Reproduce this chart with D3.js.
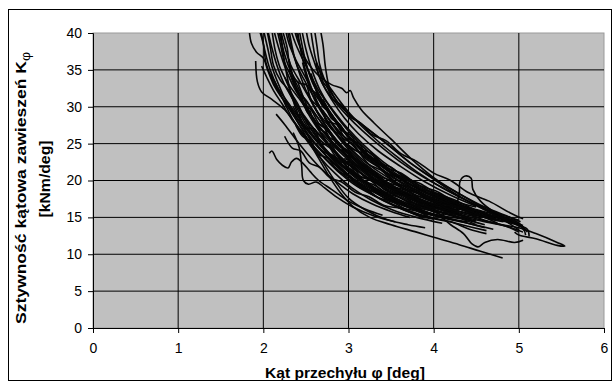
<!DOCTYPE html>
<html>
<head>
<meta charset="utf-8">
<script src="https://cdn.jsdelivr.net/npm/d3@7"></script>
<style>
  body { margin: 0; background: #fff; }
  svg text { font-family: "Liberation Sans", Arial, sans-serif; fill: #000; }
</style>
</head>
<body>
<div id="chart"></div>
<script>
// axis ticks
const xTicks = [0, 1, 2, 3, 4, 5, 6];
const yTicks = [0, 5, 10, 15, 20, 25, 30, 35, 40];

// measured runs: [roll angle deg, roll stiffness kNm/deg]
const run01 = [[1.83,41],[1.86,38.6],[1.92,37.4],[2.0,36.6],[2.05,35.0],[2.12,33.0],[2.2,31.5],[2.32,29.8],[2.45,27.5],[2.6,25.2],[2.75,23.2],[2.95,21.0],[3.2,19.0]];
const run02 = [[1.91,36.2],[1.93,33.4],[1.98,32.0],[2.1,31.0],[2.25,29.6],[2.4,27.4],[2.6,24.5],[2.85,21.5],[3.1,19.2],[3.4,17.4],[3.7,15.8],[4.0,14.8]];
const run03 = [[1.97,40.5],[2.02,37.5],[2.08,35.0],[2.17,32.6],[2.3,30.4],[2.45,28.0],[2.62,25.6],[2.8,23.3],[3.0,21.4],[3.25,19.3],[3.55,17.4],[3.85,15.9],[4.1,15.1]];
const run04 = [[2.03,41],[2.08,38.2],[2.12,35.6],[2.2,33.6],[2.28,32.5],[2.4,30.5],[2.5,28.2],[2.7,25.8],[2.95,22.7],[3.2,20.5],[3.5,18.6],[3.8,16.8],[4.15,15.4],[4.4,14.8]];
const run05 = [[2.1,40.5],[2.14,37.6],[2.2,35.2],[2.3,33.0],[2.42,31.1],[2.55,29.0],[2.7,26.6],[2.88,24.3],[3.05,22.5],[3.3,20.2],[3.6,18.2],[3.95,16.3],[4.3,15.0],[4.6,14.0]];
const run06 = [[2.15,41],[2.2,38.5],[2.25,36.0],[2.35,33.6],[2.38,32.4],[2.5,30.9],[2.62,28.8],[2.78,26.4],[2.95,24.2],[3.15,22.3],[3.4,20.0],[3.7,18.0],[4.0,16.5],[4.35,15.2]];
const run07 = [[2.2,40.5],[2.26,37.8],[2.32,35.7],[2.45,33.0],[2.55,31.0],[2.65,29.1],[2.8,27.0],[3.0,24.6],[3.2,22.5],[3.45,20.5],[3.75,18.6],[4.05,17.1],[4.4,15.8],[4.75,14.6]];
const run08 = [[2.25,41],[2.3,38.6],[2.38,36.4],[2.48,34.3],[2.6,31.8],[2.74,29.6],[2.9,27.2],[3.08,25.0],[3.3,22.8],[3.55,20.6],[3.85,18.7],[4.2,17.0],[4.55,15.6],[4.9,14.4],[5.05,13.9]];
const run09 = [[2.35,41],[2.42,38.4],[2.52,36.0],[2.65,34.2],[2.8,33.0],[2.92,32.5],[2.98,31.9],[3.02,32.2],[3.06,31.2],[3.15,29.6],[3.3,27.8],[3.5,25.6],[3.75,22.8],[4.0,20.4],[4.3,18.2],[4.6,16.2],[4.9,14.4],[5.05,13.6]];
const run10 = [[2.66,41],[2.7,38.5],[2.73,35.3],[2.78,32.5],[2.88,30.5],[3.0,29.0],[3.2,27.2],[3.45,25.0],[3.7,22.6],[3.95,20.6],[4.2,18.6],[4.5,16.6],[4.8,14.8],[5.0,13.3]];
const run11 = [[2.55,41],[2.58,38.6],[2.62,36.2],[2.7,34.0],[2.82,32.0],[2.95,30.0],[3.1,28.0],[3.3,25.8],[3.55,23.4],[3.8,21.2],[4.1,19.0],[4.4,17.2],[4.7,15.6],[5.0,14.2],[5.1,13.0]];
const run12 = [[2.3,30],[2.45,27.0],[2.6,24.0],[2.75,21.0],[2.9,18.4],[3.05,16.5],[3.25,15.0],[3.5,14.0],[3.8,13.0],[4.0,12.3],[4.3,11.3],[4.55,10.4],[4.81,9.5]];
const run13 = [[2.2,40.5],[2.25,36.0],[2.32,32.0],[2.42,28.6],[2.55,25.5],[2.7,22.5],[2.85,19.8],[3.0,17.6],[3.2,16.0],[3.45,14.7],[3.7,14.0],[3.9,13.6]];
const run14 = [[2.07,23.7],[2.1,24.0],[2.16,22.8],[2.22,22.1],[2.29,21.7],[2.33,22.5],[2.39,23.0],[2.46,22.4],[2.55,21.2],[2.65,20.0],[2.8,18.8],[3.0,17.2],[3.2,16.1],[3.4,15.3]];
const run15 = [[2.35,26.5],[2.42,24.5],[2.45,22.0],[2.47,20.0],[2.53,19.5],[2.62,19.8],[2.72,19.0],[2.88,17.6],[3.05,16.4],[3.3,15.2],[3.55,14.4]];
const run16 = [[2.4,40.5],[2.45,37.0],[2.52,34.0],[2.62,31.0],[2.75,28.0],[2.92,25.3],[3.1,23.0],[3.35,20.6],[3.6,18.6],[3.9,17.0],[4.2,15.8],[4.5,14.8],[4.8,14.0],[5.0,13.6],[5.2,12.8],[5.45,11.6],[5.54,11.1],[5.45,11.2],[5.2,12.1],[5.0,12.6],[4.95,13.0]];
const run17 = [[2.3,40.5],[2.36,37.0],[2.44,34.0],[2.55,31.0],[2.7,28.0],[2.88,25.2],[3.08,22.8],[3.3,20.8],[3.55,19.0],[3.8,17.6],[4.05,16.6],[4.25,16.6],[4.3,18.2],[4.31,19.9],[4.37,20.6],[4.44,20.3],[4.46,18.8],[4.55,17.2],[4.7,15.8],[4.9,14.6],[5.05,13.6],[5.08,12.6]];
const run18 = [[3.2,20.0],[3.5,17.4],[3.8,16.0],[4.05,15.3],[4.2,14.0],[4.35,12.8],[4.45,11.4],[4.52,11.0],[4.6,11.6],[4.75,12.0],[4.95,11.6],[5.05,11.9]];
const run19 = [[2.0,40.5],[2.05,38.0],[2.1,35.5],[2.18,33.0],[2.28,30.5],[2.4,28.4],[2.58,26.0],[2.78,23.6],[3.0,21.5],[3.22,19.6],[3.45,18.2],[3.7,16.8],[3.95,15.6]];
const run20 = [[2.12,40.5],[2.18,38.0],[2.26,35.2],[2.36,32.6],[2.5,30.0],[2.64,27.6],[2.8,25.4],[3.0,23.2],[3.22,21.0],[3.5,19.0],[3.8,17.2],[4.1,16.0],[4.4,15.0]];
const run21 = [[2.28,40.5],[2.33,38.0],[2.4,35.5],[2.5,33.2],[2.62,30.8],[2.76,28.5],[2.92,26.3],[3.12,24.0],[3.36,21.8],[3.62,19.8],[3.92,18.0],[4.25,16.4],[4.6,15.1]];
const run22 = [[2.45,40.5],[2.5,37.8],[2.57,35.0],[2.66,32.4],[2.78,30.0],[2.92,27.8],[3.1,25.4],[3.3,23.2],[3.55,21.0],[3.82,19.2],[4.12,17.5],[4.45,16.0],[4.8,14.8],[5.0,14.0]];
const run23 = [[2.5,40.5],[2.54,38.2],[2.6,36.0],[2.68,33.5],[2.8,31.0],[2.95,28.5],[3.12,26.3],[3.35,24.0],[3.6,22.0],[3.9,19.8],[4.2,18.0],[4.5,16.5]];
const run24 = [[1.95,40.5],[2.0,38.5],[2.03,36.0],[2.1,33.8],[2.2,31.6],[2.32,29.4],[2.46,27.0],[2.64,24.5],[2.85,22.2],[3.05,20.3],[3.3,18.6],[3.6,16.9],[3.9,15.6],[4.2,14.8]];
const run25 = [[2.05,40.5],[2.1,38.0],[2.16,35.6],[2.24,33.2],[2.35,31.0],[2.48,28.8],[2.65,26.2],[2.85,23.8],[3.06,21.8],[3.3,19.8],[3.58,17.8],[3.88,16.4],[4.2,15.3],[4.5,14.5]];
const run26 = [[2.18,40.5],[2.22,38.3],[2.28,36.0],[2.36,33.8],[2.46,31.5],[2.6,29.2],[2.76,26.6],[2.96,24.1],[3.18,22.0],[3.42,20.0],[3.7,18.2],[4.0,16.8],[4.3,15.8],[4.6,15.0]];
const run27 = [[2.32,40.5],[2.38,38.5],[2.46,36.5],[2.56,34.2],[2.66,32.0],[2.8,29.8],[2.98,27.2],[3.18,24.8],[3.4,22.6],[3.68,20.4],[3.98,18.4],[4.3,16.8],[4.65,15.4],[4.95,14.4]];
const run28 = [[2.38,40.5],[2.44,38.0],[2.5,35.8],[2.58,33.2],[2.7,30.6],[2.85,28.2],[3.02,25.8],[3.22,23.6],[3.46,21.4],[3.75,19.3],[4.05,17.6],[4.38,16.2],[4.7,15.0]];
const run29 = [[2.6,40.5],[2.63,38.2],[2.66,35.8],[2.72,33.6],[2.8,31.8],[2.9,30.2],[3.05,28.6],[3.25,26.8],[3.5,24.5],[3.75,22.2],[4.0,20.2],[4.3,18.2],[4.6,16.4],[4.9,15.0],[5.02,14.4]];
const run30 = [[2.22,40.5],[2.28,38.0],[2.32,35.0],[2.42,33.2],[2.5,33.0],[2.56,31.0],[2.7,29.4],[2.85,27.0],[3.0,25.4],[3.2,23.0],[3.4,21.4],[3.62,19.2],[3.9,17.8],[4.15,16.4],[4.3,16.0]];
const run31 = [[2.08,34.5],[2.15,33.0],[2.25,30.5],[2.36,28.0],[2.5,25.6],[2.66,23.2],[2.84,21.0],[3.04,19.0],[3.26,17.4],[3.52,16.0],[3.8,15.0],[4.1,14.2]];
const run32 = [[2.4,33.5],[2.48,31.0],[2.58,28.4],[2.7,26.0],[2.86,23.5],[3.04,21.2],[3.25,19.2],[3.5,17.4],[3.78,16.0],[4.08,15.0],[4.4,14.2],[4.7,13.4]];
const run33 = [[2.3,36.5],[2.35,34.0],[2.42,31.6],[2.52,29.2],[2.65,26.8],[2.8,24.4],[2.98,22.0],[3.18,20.0],[3.42,18.2],[3.7,16.6],[4.0,15.4],[4.3,14.5],[4.6,13.6]];
const run34 = [[2.6,30.0],[2.7,28.0],[2.82,26.0],[2.98,24.0],[3.16,22.0],[3.38,20.0],[3.64,18.2],[3.92,16.8],[4.2,15.6],[4.52,14.6],[4.85,13.8],[5.05,13.0]];
const run35 = [[2.5,28.0],[2.62,26.0],[2.74,24.0],[2.9,21.8],[3.08,19.8],[3.3,18.0],[3.55,16.6],[3.84,15.4],[4.12,14.6],[4.4,13.8],[4.62,13.2]];
const run36 = [[2.7,31.0],[2.8,29.0],[2.92,27.2],[3.06,25.2],[3.24,23.2],[3.45,21.4],[3.7,19.6],[3.96,18.0],[4.25,16.6],[4.55,15.4],[4.85,14.4],[5.1,13.4],[5.12,12.4]];
const run37 = [[2.25,34.0],[2.34,31.6],[2.45,29.0],[2.58,26.6],[2.72,24.4],[2.9,22.2],[3.1,20.2],[3.35,18.4],[3.6,17.0],[3.88,15.8],[4.1,15.3],[4.2,16.2],[4.3,15.4],[4.45,14.6]];
const run38 = [[1.98,35.5],[2.04,34.0],[2.12,32.2],[2.22,30.4],[2.34,28.2],[2.5,25.8],[2.7,23.3],[2.92,21.0],[3.15,19.0],[3.4,17.3],[3.65,16.0],[3.9,15.0]];
const run39 = [[2.62,36.0],[2.66,34.0],[2.74,32.2],[2.86,30.4],[3.0,28.6],[3.16,26.8],[3.36,24.8],[3.6,22.6],[3.86,20.6],[4.14,18.8],[4.44,17.0],[4.74,15.6],[5.0,14.6]];
const run40 = [[2.15,29.0],[2.25,27.6],[2.38,25.6],[2.52,23.6],[2.68,21.6],[2.86,19.8],[3.05,18.2],[3.28,16.8],[3.5,15.8],[3.72,15.0]];
const run41 = [[2.42,40.5],[2.47,37.5],[2.52,35.2],[2.6,32.8],[2.72,30.4],[2.86,28.0],[3.04,25.6],[3.25,23.3],[3.5,21.2],[3.78,19.2],[4.08,17.6],[4.4,16.3],[4.7,15.2],[4.98,14.4],[5.06,13.2]];
const run42 = [[2.35,30.0],[2.45,28.0],[2.56,26.2],[2.68,24.6],[2.82,23.0],[2.98,21.4],[3.16,19.9],[3.36,18.6],[3.58,17.4],[3.82,16.4],[4.06,15.6]];
const run43 = [[2.52,32.0],[2.6,30.0],[2.7,28.0],[2.82,26.0],[2.96,24.0],[3.12,22.2],[3.3,20.6],[3.52,19.0],[3.76,17.6],[4.02,16.5],[4.3,15.6],[4.55,14.9]];
const run44 = [[2.46,36.0],[2.52,33.5],[2.6,31.0],[2.72,28.6],[2.86,26.4],[3.02,24.2],[3.2,22.2],[3.42,20.4],[3.66,18.8],[3.92,17.4],[4.2,16.3]];
const run45 = [[2.28,32.5],[2.38,30.2],[2.5,27.6],[2.64,25.2],[2.8,23.0],[2.98,21.0],[3.18,19.2],[3.4,17.8],[3.64,16.6],[3.9,15.6],[4.18,14.8]];
const run46 = [[2.56,34.5],[2.62,32.4],[2.7,30.4],[2.82,28.4],[2.96,26.4],[3.12,24.4],[3.3,22.4],[3.52,20.4],[3.78,18.6],[4.06,17.2],[4.36,16.0],[4.66,15.0]];
const run47 = [[2.68,26.5],[2.8,25.0],[2.94,23.4],[3.1,21.8],[3.28,20.2],[3.5,18.8],[3.74,17.6],[4.0,16.6],[4.28,15.8]];
const run48 = [[2.45,31.5],[2.52,29.2],[2.58,28.6],[2.66,27.0],[2.74,26.4],[2.84,24.6],[2.95,23.9],[3.05,22.2],[3.18,21.6],[3.3,20.0],[3.45,19.4],[3.6,18.2],[3.78,17.6],[3.95,16.5],[4.15,16.0]];
const run49 = [[2.55,29.5],[2.6,28.0],[2.7,27.4],[2.78,25.8],[2.88,25.2],[2.98,23.4],[3.1,22.8],[3.22,21.0],[3.36,20.5],[3.5,19.0],[3.68,18.4],[3.86,17.2],[4.05,16.7],[4.3,15.6]];
const run50 = [[2.6,33.0],[2.66,31.0],[2.72,30.2],[2.8,28.4],[2.9,27.6],[3.0,25.8],[3.12,25.0],[3.24,23.2],[3.38,22.5],[3.52,20.8],[3.7,20.0],[3.9,18.4],[4.1,17.8],[4.35,16.4],[4.6,15.6]];
const run51 = [[2.38,27.5],[2.46,26.0],[2.55,25.4],[2.64,23.6],[2.76,23.0],[2.88,21.2],[3.0,20.6],[3.14,19.0],[3.3,18.5],[3.48,17.2],[3.66,16.7],[3.86,15.6],[4.05,15.2]];
const run52 = [[2.72,28.5],[2.8,27.0],[2.9,26.2],[3.0,24.6],[3.12,23.8],[3.24,22.2],[3.38,21.4],[3.54,19.8],[3.72,19.0],[3.9,17.6],[4.1,17.0],[4.3,15.8],[4.55,15.2],[4.75,14.2]];
const run53 = [[2.5,34.5],[2.55,32.5],[2.62,31.8],[2.7,30.0],[2.8,29.0],[2.9,27.0],[3.02,26.2],[3.14,24.4],[3.28,23.6],[3.44,21.8],[3.62,21.0],[3.82,19.4],[4.02,18.6],[4.25,17.2],[4.5,16.4]];
const run54 = [[2.62,25.0],[2.72,23.8],[2.82,23.4],[2.92,22.0],[3.04,21.4],[3.16,20.0],[3.3,19.4],[3.46,18.2],[3.62,17.6],[3.8,16.4],[4.0,15.8],[4.2,14.8],[4.4,14.4]];
const run55 = [[2.85,27.0],[2.95,25.6],[3.05,25.0],[3.16,23.4],[3.28,22.8],[3.42,21.2],[3.58,20.4],[3.75,19.0],[3.94,18.2],[4.14,17.0],[4.36,16.2],[4.6,15.0],[4.82,14.4]];
const run56 = [[2.3,35.0],[2.36,33.0],[2.4,32.4],[2.48,30.4],[2.56,29.6],[2.66,27.6],[2.76,26.8],[2.88,24.8],[3.0,24.0],[3.14,22.0],[3.3,21.2],[3.48,19.4],[3.68,18.6],[3.9,17.2],[4.12,16.6]];
const run57 = [[2.78,24.5],[2.9,22.6],[3.0,22.2],[3.12,20.6],[3.26,20.0],[3.4,18.6],[3.56,18.0],[3.74,16.8],[3.92,16.2],[4.12,15.2],[4.32,14.8],[4.5,14.0]];
const run58 = [[2.95,23.0],[3.05,22.4],[3.16,21.6],[3.3,21.0],[3.44,19.8],[3.6,19.2],[3.78,18.0],[3.96,17.4],[4.16,16.2],[4.38,15.6],[4.6,14.6],[4.85,13.8],[5.0,13.0]];
const run59 = [[3.1,19.5],[3.22,18.8],[3.36,17.6],[3.5,17.2],[3.66,16.2],[3.82,15.8],[4.0,14.8],[4.2,14.4],[4.42,13.4],[4.62,12.8]];
const run60 = [[2.65,35.5],[2.7,33.4],[2.75,32.6],[2.82,31.0],[2.92,30.2],[3.02,28.6],[3.14,27.8],[3.28,26.2],[3.44,25.4],[3.62,23.6],[3.8,22.6],[4.0,21.0],[4.2,20.0],[4.4,18.4],[4.65,17.2],[4.9,15.6],[5.05,14.8]];
const run61 = [[2.25,26.0],[2.34,24.4],[2.44,24.0],[2.54,22.4],[2.66,21.8],[2.78,20.4],[2.92,19.8],[3.08,18.4],[3.24,17.8],[3.42,16.6],[3.62,16.2],[3.82,15.2],[4.0,14.8]];
const run62 = [[2.98,25.0],[3.1,24.0],[3.22,23.6],[3.35,22.4],[3.5,21.8],[3.66,20.4],[3.84,19.6],[4.04,18.2],[4.24,17.4],[4.46,16.2],[4.7,15.4],[4.92,14.2]];
const run63 = [[2.42,29.0],[2.5,27.2],[2.6,27.0],[2.68,25.0],[2.8,24.8],[2.9,22.8],[3.02,22.4],[3.14,20.6],[3.28,20.2],[3.44,18.6],[3.6,18.2],[3.8,16.8],[4.0,16.4]];
const run64 = [[2.7,29.5],[2.76,28.0],[2.86,27.6],[2.96,25.8],[3.08,25.2],[3.2,23.4],[3.34,22.8],[3.5,21.0],[3.66,20.4],[3.86,18.8],[4.06,18.2],[4.28,16.8]];
const run65 = [[2.58,27.0],[2.66,25.6],[2.76,24.6],[2.86,23.8],[2.96,22.4],[3.08,21.8],[3.2,20.4],[3.34,19.8],[3.5,18.4],[3.68,17.8],[3.88,16.6],[4.08,16.0],[4.3,15.0]];
const run66 = [[2.8,26.0],[2.9,24.6],[3.0,24.0],[3.1,22.6],[3.22,22.0],[3.36,20.6],[3.5,20.0],[3.66,18.8],[3.84,18.2],[4.04,17.0],[4.24,16.4],[4.46,15.4]];

const runs = [run01, run02, run03, run04, run05, run06, run07, run08, run09, run10,
  run11, run12, run13, run14, run15, run16, run17, run18, run19, run20,
  run21, run22, run23, run24, run25, run26, run27, run28, run29, run30,
  run31, run32, run33, run34, run35, run36, run37, run38, run39, run40,
  run41, run42, run43, run44, run45, run46, run47, run48, run49, run50,
  run51, run52, run53, run54, run55, run56, run57, run58, run59, run60,
  run61, run62, run63, run64, run65, run66];

const W = 614, H = 384;
const margin = { top: 33, left: 93 };
const width = 604 - margin.left;
const height = 328 - margin.top;

const svg = d3.select('#chart').append('svg')
  .attr('width', W)
  .attr('height', H);

// outer frame
svg.append('rect')
  .attr('x', 8.5).attr('y', 9.5)
  .attr('width', 603).attr('height', 371)
  .attr('fill', 'none')
  .attr('stroke', '#000');

const g = svg.append('g')
  .attr('transform', `translate(${margin.left},${margin.top})`);

const x = d3.scaleLinear().domain([0, 6]).range([0, width]);
const y = d3.scaleLinear().domain([0, 40]).range([height, 0]);

// plot area
g.append('rect')
  .attr('width', width).attr('height', height)
  .attr('fill', '#c0c0c0')
  .attr('stroke', '#9a9a9a');

// gridlines
g.selectAll('.hgrid')
  .data(yTicks.filter(d => d > 0 && d < 40))
  .enter().append('line')
  .attr('class', 'hgrid')
  .attr('x1', 0).attr('x2', width)
  .attr('y1', d => y(d)).attr('y2', d => y(d))
  .attr('stroke', '#000');

g.selectAll('.vgrid')
  .data(xTicks.filter(d => d > 0 && d < 6))
  .enter().append('line')
  .attr('class', 'vgrid')
  .attr('y1', 0).attr('y2', height)
  .attr('x1', d => x(d)).attr('x2', d => x(d))
  .attr('stroke', '#000');

// curves
g.append('clipPath').attr('id', 'plotclip')
  .append('rect').attr('width', width).attr('height', height);

const line = d3.line()
  .x(d => x(d[0]))
  .y(d => y(d[1]))
  .curve(d3.curveCatmullRom.alpha(0.5));

g.append('g')
  .attr('clip-path', 'url(#plotclip)')
  .selectAll('path')
  .data(runs)
  .enter().append('path')
  .attr('d', line)
  .attr('fill', 'none')
  .attr('stroke', '#050505')
  .attr('stroke-width', 1.6)
  .attr('stroke-linejoin', 'round');

// axes
const xAxis = g.append('g')
  .attr('transform', `translate(0,${height})`)
  .call(d3.axisBottom(x).tickValues(xTicks).tickSize(5).tickPadding(10).tickFormat(d3.format('d')));
const yAxis = g.append('g')
  .call(d3.axisLeft(y).tickValues(yTicks).tickSize(5).tickPadding(6).tickFormat(d3.format('d')));

[xAxis, yAxis].forEach(a => {
  a.select('.domain').attr('stroke', '#000');
  a.selectAll('.tick line').attr('stroke', '#000');
  a.selectAll('.tick text')
    .style('font-family', '"Liberation Sans", Arial, sans-serif')
    .style('font-size', '14px')
    .attr('fill', '#000');
});

// axis titles
svg.append('text')
  .attr('x', 345)
  .attr('y', 378)
  .attr('text-anchor', 'middle')
  .attr('textLength', 160)
  .attr('lengthAdjust', 'spacingAndGlyphs')
  .style('font-size', '15px')
  .style('font-weight', 'bold')
  .text('Kąt przechyłu φ [deg]');

const yTitle = svg.append('text')
  .attr('transform', 'translate(26,188) rotate(-90)')
  .attr('text-anchor', 'middle')
  .attr('textLength', 272)
  .attr('lengthAdjust', 'spacingAndGlyphs')
  .style('font-size', '15px')
  .style('font-weight', 'bold');
yTitle.append('tspan').text('Sztywność kątowa zawieszeń K');
yTitle.append('tspan').attr('dy', 4).style('font-size', '12px').style('font-weight', 'normal').text('φ');

svg.append('text')
  .attr('transform', 'translate(50,179) rotate(-90)')
  .attr('text-anchor', 'middle')
  .attr('textLength', 77)
  .attr('lengthAdjust', 'spacingAndGlyphs')
  .style('font-size', '15px')
  .style('font-weight', 'bold')
  .text('[kNm/deg]');
</script>
</body>
</html>
